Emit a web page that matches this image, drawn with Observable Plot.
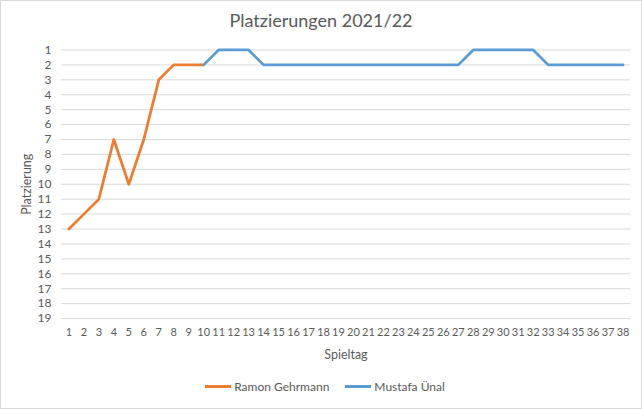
<!DOCTYPE html>
<html>
<head>
<meta charset="utf-8">
<script src="https://cdn.jsdelivr.net/npm/d3@7"></script>
<script src="https://cdn.jsdelivr.net/npm/@observablehq/plot@0.6"></script>
<style>
  html, body { margin: 0; padding: 0; background: #fff; }
  #chart {
    position: relative; width: 640px; height: 407px;
    border: 1px solid #d9d9d9; background: #fff;
    font-family: Lato, "Open Sans", sans-serif; color: #595959; overflow: hidden;
  }
  #title {
    position: absolute; left: 0; top: 8px; width: 640px; text-align: center;
    font-size: 18px; color: #595959;
  }
  #plot { position: absolute; left: -1px; top: 34px; }
  #legend {
    position: absolute; left: 4px; top: 378px; width: 640px;
    display: flex; justify-content: center; gap: 16px; font-size: 12px; color: #595959;
  }
  .item { display: flex; align-items: center; }
  .sw { display: inline-block; width: 26px; height: 3px; margin-right: 3px; }
</style>
</head>
<body>
<div id="chart">
  <div id="title">Platzierungen 2021/22</div>
  <div id="plot"></div>
  <div id="legend"></div>
</div>
<script>
const seriesNames = ["Ramon Gehrmann", "Mustafa Ünal"];
const seriesColors = ["#ED7D31", "#5B9BD5"];
const ramonDays  = [1, 2, 3, 4, 5, 6, 7, 8, 9, 10];
const ramonRanks = [13, 12, 11, 7, 10, 7, 3, 2, 2, 2];
const mustafaDays  = [10, 11, 12, 13, 14, 15, 16, 17, 18, 19, 20, 21, 22, 23, 24, 25, 26, 27, 28, 29, 30, 31, 32, 33, 34, 35, 36, 37, 38];
const mustafaRanks = [2, 1, 1, 1, 2, 2, 2, 2, 2, 2, 2, 2, 2, 2, 2, 2, 2, 2, 1, 1, 1, 1, 1, 2, 2, 2, 2, 2, 2];
const xTicks = [1, 2, 3, 4, 5, 6, 7, 8, 9, 10, 11, 12, 13, 14, 15, 16, 17, 18, 19, 20, 21, 22, 23, 24, 25, 26, 27, 28, 29, 30, 31, 32, 33, 34, 35, 36, 37, 38];
const yTicks = [1, 2, 3, 4, 5, 6, 7, 8, 9, 10, 11, 12, 13, 14, 15, 16, 17, 18, 19];

const ramon = ramonDays.map((d, i) => ({spieltag: d, platz: ramonRanks[i], name: seriesNames[0]}));
const mustafa = mustafaDays.map((d, i) => ({spieltag: d, platz: mustafaRanks[i], name: seriesNames[1]}));

const W = 642, H = 330;
const chart = Plot.plot({
  width: W, height: H,
  marginTop: 14.5, marginBottom: 46.5, marginLeft: 61, marginRight: 11,
  style: {fontFamily: "Lato, 'Open Sans', sans-serif", fontSize: "11px", color: "#595959", background: "transparent"},
  x: {domain: [0.5, 38.5], ticks: xTicks, tickSize: 0, tickPadding: 10, tickFormat: d => String(d), label: null},
  y: {domain: [19, 1], ticks: yTicks, tickSize: 0, tickPadding: 10, tickFormat: d => String(d), label: null},
  marks: [
    Plot.ruleY(yTicks, {stroke: "#d9d9d9", strokeWidth: 1}),
    Plot.axisX({ticks: xTicks, tickSize: 0, tickPadding: 10, tickFormat: d => String(d), label: null, fill: "#595959", fontSize: 11}),
    Plot.axisY({ticks: yTicks, tickSize: 0, tickPadding: 10, tickFormat: d => String(d), label: null, fill: "#595959", fontSize: 12}),
    Plot.line(ramon, {x: "spieltag", y: "platz", stroke: seriesColors[0], strokeWidth: 2.75, strokeLinejoin: "round", strokeLinecap: "round"}),
    Plot.line(mustafa, {x: "spieltag", y: "platz", stroke: seriesColors[1], strokeWidth: 2.75, strokeLinejoin: "round", strokeLinecap: "round"}),
    Plot.text(["Spieltag"], {frameAnchor: "bottom", lineAnchor: "middle", dy: 37, fill: "#595959", fontSize: 12.5}),
    Plot.text(["Platzierung"], {frameAnchor: "left", textAnchor: "middle", lineAnchor: "middle", dx: -34, rotate: -90, fill: "#595959", fontSize: 12.5})
  ]
});
document.getElementById("plot").appendChild(chart);

const legend = document.getElementById("legend");
seriesNames.forEach((n, i) => {
  const it = document.createElement("div");
  it.className = "item";
  const sw = document.createElement("span");
  sw.className = "sw";
  sw.style.background = seriesColors[i];
  it.appendChild(sw);
  const t = document.createElement("span");
  t.textContent = n;
  it.appendChild(t);
  legend.appendChild(it);
});
</script>
</body>
</html>
